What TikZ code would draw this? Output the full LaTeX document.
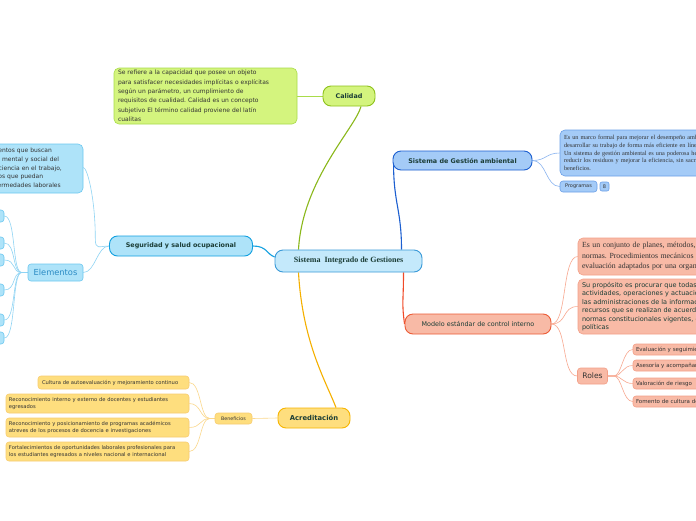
\documentclass[tikz,border=0pt]{standalone}
\usepackage{fontspec}
\usetikzlibrary{backgrounds}
\setmainfont{DejaVu Sans}
\newfontfamily\serifx{Liberation Serif}
\frenchspacing
\definecolor{txt}{HTML}{333333}
\definecolor{ttl}{HTML}{1B3D36}
\definecolor{cenfill}{HTML}{C4E9FB}
\definecolor{cenline}{HTML}{3A9AD8}
\definecolor{gfill}{HTML}{D4F47E}
\definecolor{gline}{HTML}{8EC21C}
\definecolor{gdline}{HTML}{A9DC4A}
\definecolor{gcon}{HTML}{8AB81A}
\definecolor{bfill}{HTML}{AEE3F9}
\definecolor{bline}{HTML}{12A0E0}
\definecolor{blight}{HTML}{6CC8F0}
\definecolor{bcon}{HTML}{8FD4F4}
\definecolor{etext}{HTML}{2B8BC4}
\definecolor{sfill}{HTML}{A4CBF7}
\definecolor{sline}{HTML}{1C5FD0}
\definecolor{slight}{HTML}{6B9FE8}
\definecolor{scon}{HTML}{8AB4F0}
\definecolor{rfill}{HTML}{F8BAA6}
\definecolor{rline}{HTML}{EC5C36}
\definecolor{rlight}{HTML}{F3A088}
\definecolor{rcon}{HTML}{F04A28}
\definecolor{rccon}{HTML}{F8A890}
\definecolor{yfill}{HTML}{FEDE7E}
\definecolor{yline}{HTML}{F7B500}
\definecolor{ylight}{HTML}{F8CC70}
\definecolor{ycon}{HTML}{F5B000}
\definecolor{yccon}{HTML}{FBD88C}
\tikzset{
  pill/.style={rounded corners=8pt, line width=0.9pt, inner sep=0pt, align=center, text=ttl},
  leaf/.style={rounded corners=3pt, line width=0.6pt, inner sep=0pt, align=left, text=txt},
  maincon/.style={line width=1.1pt},
  subcon/.style={line width=0.6pt},
}
\begin{document}
\begin{tikzpicture}[x=1pt,y=-1pt]
\path[use as bounding box] (0,0) rectangle (696,520);

% central
\node[pill, fill=cenfill, draw=cenline, minimum width=147pt, minimum height=22pt,
  font=\serifx\bfseries\fontsize{8}{9}\selectfont] (cen) at (348.5,261) {Sistema\ \ Integrado de Gestiones};

% Calidad
\node[pill, fill=gfill, draw=gline, minimum width=52pt, minimum height=20pt,
  font=\bfseries\fontsize{6.4}{8}\selectfont] (cal) at (349,96) {Calidad};
\node[leaf, fill=gfill, draw=gdline, rounded corners=5pt, minimum width=183pt, minimum height=56pt, text width=175pt,
  font=\fontsize{6}{9.3}\selectfont] (cdesc) at (205.5,96) {Se refiere a la capacidad que posee un objeto\\para satisfacer necesidades implícitas o explícitas\\según un parámetro, un cumplimiento de\\requisitos de cualidad. Calidad es un concepto\\subjetivo El término calidad proviene del latín\\cualitas};

% Seguridad
\node[pill, fill=bfill, draw=bline, minimum width=143pt, minimum height=20pt,
  font=\bfseries\fontsize{6.4}{8}\selectfont] (seg) at (181,246) {Seguridad y salud ocupacional};
\node[leaf, fill=bfill, draw=blight, rounded corners=5pt, minimum width=142pt, minimum height=49pt, text width=134pt,
  font=\fontsize{6}{8.6}\selectfont] (sdesc) at (12,168.5) {Conjunto de elementos que buscan\\el bienestar físico, mental y social del\\trabajador y la eficiencia en el trabajo,\\evitando los riesgos que puedan\\y prevenir las enfermedades laborales};
\node[leaf, fill=bfill, draw=blight, align=center, minimum width=55pt, minimum height=17pt, text=etext,
  font=\fontsize{8.3}{10}\selectfont] (elem) at (55.5,272.5) {Elementos};
\foreach \i/\yy in {1/216,2/243,3/260,4/290,5/320,6/338}{
  \node[leaf, fill=bfill, draw=blight, minimum width=34pt, minimum height=12pt] (e\i) at (-13,\yy) {};
}

% SGA
\node[pill, fill=sfill, draw=sline, minimum width=139pt, minimum height=19pt,
  font=\bfseries\fontsize{6.4}{8}\selectfont] (sga) at (462.5,160.5) {Sistema de Gestión ambiental};
\node[leaf, fill=sfill, draw=slight, rounded corners=5pt, minimum width=200pt, minimum height=46pt, text width=192pt,
  font=\serifx\fontsize{6.2}{7.6}\selectfont] (sgadesc) at (660,153) {Es un marco formal para mejorar el desempeño ambiental y\\desarrollar su trabajo de forma más eficiente en línea con\\Un sistema de gestión ambiental es una poderosa herramienta para\\reducir los residuos y mejorar la eficiencia, sin sacrificar los\\beneficios.};
\node[leaf, fill=sfill, draw=slight, align=center, minimum width=37pt, minimum height=11pt,
  font=\fontsize{5}{6}\selectfont] (prog) at (578.5,186.5) {Programas};
\node[leaf, fill=sfill, draw=slight, rounded corners=2pt, align=center, minimum width=9pt, minimum height=9pt,
  font=\fontsize{5}{6}\selectfont] (badge) at (604.5,186.5) {8};

% Modelo
\node[pill, fill=rfill, draw=rline, minimum width=146pt, minimum height=20pt,
  font=\fontsize{6.4}{8}\selectfont] (mod) at (478,324) {Modelo estándar de control interno};
\node[leaf, fill=rfill, draw=rlight, rounded corners=5pt, minimum width=182pt, minimum height=37pt, text width=174pt,
  font=\serifx\fontsize{7.8}{10.6}\selectfont] (md1) at (669,256.5) {Es un conjunto de planes, métodos, principios,\\normas. Procedimientos mecánicos de verificación y\\evaluación adaptados por una organización};
\node[leaf, fill=rfill, draw=rlight, rounded corners=5pt, minimum width=182pt, minimum height=55pt, text width=174pt, text=ttl,
  font=\fontsize{6.5}{8.4}\selectfont] (md2) at (669,306.5) {Su propósito es procurar que todas las\\actividades, operaciones y actuaciones, así como\\las administraciones de la información y los\\recursos que se realizan de acuerdo con las\\normas constitucionales vigentes, dentro de las\\políticas};
\node[leaf, fill=rfill, draw=rlight, align=center, minimum width=30pt, minimum height=16pt,
  font=\fontsize{7.6}{9}\selectfont] (roles) at (592.5,376) {Roles};
\foreach \i/\yy/\t in {1/349.5/Evaluación y seguimiento,2/365.5/Asesoría y acompañamiento,3/383.5/Valoración de riesgo,4/401.5/Fomento de cultura de control}{
  \node[leaf, fill=rfill, draw=rlight, minimum width=127pt, minimum height=11pt, text width=121pt,
    font=\fontsize{5.5}{6}\selectfont] (r\i) at (696.5,\yy) {\t};
}

% Acreditacion
\node[pill, fill=yfill, draw=yline, minimum width=72pt, minimum height=20pt,
  font=\bfseries\fontsize{6.8}{8}\selectfont] (acr) at (314,418) {Acreditación};
\node[leaf, fill=yfill, draw=ylight, align=center, minimum width=37pt, minimum height=11pt,
  font=\fontsize{4.8}{6}\selectfont] (ben) at (233.5,418.5) {Beneficios};
\node[leaf, fill=yfill, draw=ylight, minimum width=151pt, minimum height=13pt, text width=143pt,
  font=\fontsize{5.2}{7.4}\selectfont] (b1) at (113.5,382.5) {Cultura de autoevaluación y mejoramiento continuo};
\node[leaf, fill=yfill, draw=ylight, minimum width=183pt, minimum height=19pt, text width=177pt,
  font=\fontsize{5.2}{7.4}\selectfont] (b2) at (97.5,403.5) {Reconocimiento interno y externo de docentes y estudiantes\\egresados};
\node[leaf, fill=yfill, draw=ylight, minimum width=183pt, minimum height=19pt, text width=177pt,
  font=\fontsize{5.2}{7.4}\selectfont] (b3) at (97.5,427.5) {Reconocimiento y posicionamiento de programas académicos\\atreves de los procesos de docencia e investigaciones};
\node[leaf, fill=yfill, draw=ylight, minimum width=183pt, minimum height=19pt, text width=177pt,
  font=\fontsize{5.2}{7.4}\selectfont] (b4) at (97.5,451.5) {Fortalecimientos de oportunidades laborales profesionales para\\los estudiantes egresados a niveles nacional e internacional};

% ---- connectors ----
\begin{scope}[on background layer]
\fill[white] (0,0) rectangle (696,520);
\draw[maincon, gcon] ([xshift=-50pt]cen.north) .. controls +(4,-70) and +(-6,22) .. ([xshift=12pt]cal.south);
\draw[subcon, gdline] (cal.west) -- (cdesc.east);

\draw[maincon, bline] (seg.east) .. controls +(14,0) and +(-8,-3) .. ([yshift=4pt]cen.west);
\draw[subcon, bcon] (seg.west) .. controls +(-10,0) and +(0,12) .. ([xshift=12pt,yshift=-70pt]sdesc.east) .. controls +(0,-40) and +(4,0) .. ([yshift=1pt]sdesc.east);
\draw[subcon, bcon] (seg.west) .. controls +(-12,0) and +(12,0) .. (elem.east);
\foreach \i in {1,...,6}{
  \draw[subcon, bcon] (elem.west) -- +(-6,0) .. controls +(-10,0) and +(12,0) .. (e\i.east);
}

\draw[maincon, sline] ([xshift=53pt]cen.north) .. controls +(0,-40) and +(0,40) .. ([xshift=1pt,yshift=-3pt]sga.west);
\draw[subcon, scon] (sga.east) .. controls +(14,0) and +(-14,0) .. (sgadesc.west);
\draw[subcon, scon] (sga.east) .. controls +(14,0) and +(-14,0) .. (prog.west);

\draw[maincon, rcon] ([xshift=55pt]cen.south) .. controls +(0,30) and +(-3,-22) .. (mod.west);
\foreach \n in {md1,md2,roles}{
  \draw[subcon, rccon] (mod.east) .. controls +(16,0) and +(-16,0) .. (\n.west);
}
\foreach \i in {1,...,4}{
  \draw[subcon, rccon] (roles.east) -- +(6,0) .. controls +(8,0) and +(-10,0) .. (r\i.west);
}

\draw[maincon, ycon] ([xshift=-50pt]cen.south) .. controls +(4,70) and +(-10,-26) .. ([xshift=22pt]acr.north);
\draw[subcon, yccon] (acr.west) -- (ben.east);
\foreach \n in {b1,b2,b3,b4}{
  \draw[subcon, yccon] (ben.west) -- +(-5,0) .. controls +(-10,0) and +(12,0) .. (\n.east);
}
\end{scope}
\end{tikzpicture}
\end{document}
